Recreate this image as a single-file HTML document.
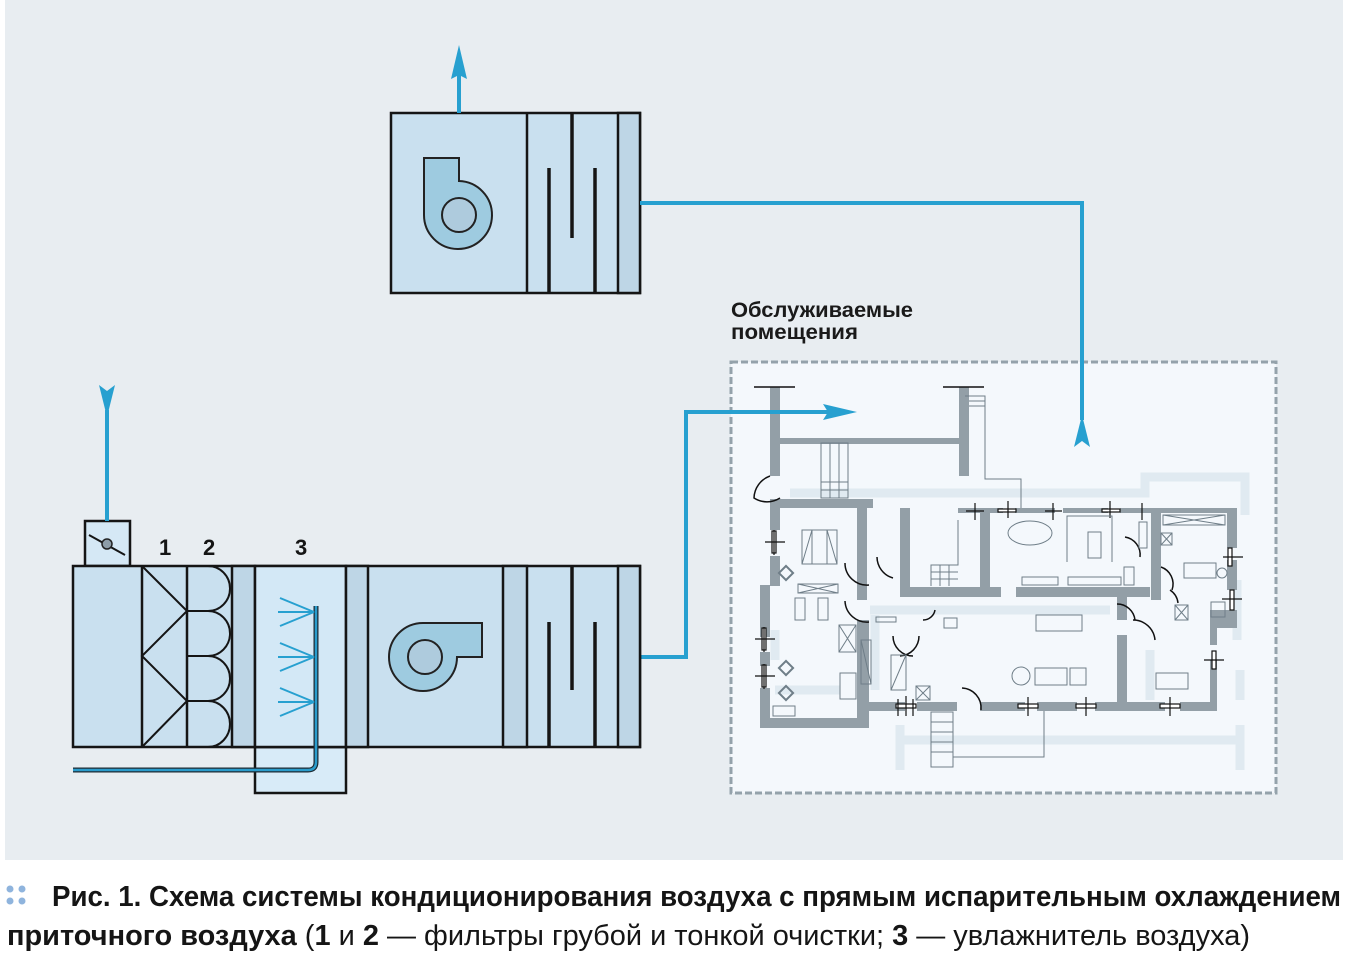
<!DOCTYPE html>
<html><head><meta charset="utf-8"><style>
html,body{margin:0;padding:0;background:#fff;}
svg{display:block;}
</style></head><body>
<svg width="1350" height="963" viewBox="0 0 1350 963" xmlns="http://www.w3.org/2000/svg">
<rect x="5" y="0" width="1338" height="860" fill="#e8edf1"/>

<!-- Top exhaust unit -->
<g stroke="#151515" stroke-width="2.5">
<rect x="391" y="113" width="249" height="180" fill="#c9e0ef"/>
<rect x="618" y="113" width="22" height="180" fill="#bed6e6"/>
<line x1="527" y1="113" x2="527" y2="293"/>
</g>
<g stroke="#151515" stroke-width="3.5">
<line x1="549" y1="168" x2="549" y2="293"/>
<line x1="572" y1="113" x2="572" y2="238"/>
<line x1="595" y1="168" x2="595" y2="293"/>
</g>
<path d="M424,158 H459 V181 A34,34 0 1 1 424,215 Z" fill="#9ecbe0" stroke="#222" stroke-width="2"/>
<circle cx="459" cy="215" r="17" fill="#aecbdd" stroke="#222" stroke-width="2"/>
<line x1="459" y1="113" x2="459" y2="75" stroke="#27a0d0" stroke-width="4"/>
<path d="M459,45 L451,79 L459,75 L467,79 Z" fill="#27a0d0"/>

<!-- Label -->
<text x="731" y="317" font-family="Liberation Sans, sans-serif" font-weight="bold" font-size="21" fill="#1a1a1a" textLength="182" lengthAdjust="spacingAndGlyphs">Обслуживаемые</text>
<text x="731" y="339" font-family="Liberation Sans, sans-serif" font-weight="bold" font-size="21" fill="#1a1a1a" textLength="127" lengthAdjust="spacingAndGlyphs">помещения</text>

<!-- Floor plan area -->
<rect x="731" y="362" width="545" height="431" fill="#f4f8fc" stroke="#94a2ab" stroke-width="3" stroke-dasharray="7,3"/>
<g fill="none" stroke="#e0eaf1" stroke-width="9">
<polyline points="790,493 1145,493 1145,477 1245,477 1245,515"/>
<line x1="900" y1="725" x2="900" y2="770"/>
<line x1="900" y1="740" x2="1240" y2="740"/>
<line x1="1240" y1="725" x2="1240" y2="770"/>
<line x1="1237" y1="580" x2="1237" y2="640"/>
<line x1="1240" y1="670" x2="1240" y2="700"/>
<line x1="875" y1="615" x2="875" y2="690"/>
<line x1="870" y1="610" x2="1110" y2="610"/>
<line x1="1150" y1="650" x2="1150" y2="700"/>
<line x1="775" y1="690" x2="840" y2="690"/>
<line x1="775" y1="630" x2="775" y2="660"/>
</g>
<g fill="#939fa7">
<rect x="770" y="387" width="10" height="89"/>
<rect x="959" y="387" width="10" height="89"/>
<rect x="780" y="438" width="179" height="6"/>
<rect x="770" y="499" width="103" height="9"/>
<rect x="770" y="508" width="10" height="22"/>
<rect x="770" y="556" width="10" height="30"/>
<rect x="760" y="585" width="10" height="52"/>
<rect x="760" y="652" width="10" height="14"/>
<rect x="760" y="688" width="10" height="40"/>
<rect x="760" y="718" width="109" height="10"/>
<rect x="857" y="508" width="10" height="92"/>
<rect x="857" y="620" width="12" height="108"/>
<rect x="869" y="702" width="36" height="9"/>
<rect x="917" y="702" width="40" height="9"/>
<rect x="980" y="702" width="45" height="9"/>
<rect x="1037" y="702" width="40" height="9"/>
<rect x="1095" y="702" width="70" height="9"/>
<rect x="1180" y="702" width="36" height="9"/>
<rect x="1210" y="660" width="7" height="51"/>
<rect x="1210" y="610" width="7" height="35"/>
<rect x="1210" y="610" width="27" height="18"/>
<rect x="1227" y="508" width="10" height="40"/>
<rect x="1227" y="560" width="10" height="30"/>
<rect x="958" y="508" width="45" height="5"/>
<rect x="1015" y="508" width="40" height="5"/>
<rect x="1063" y="508" width="45" height="5"/>
<rect x="1120" y="508" width="117" height="5"/>
<rect x="980" y="513" width="10" height="84"/>
<rect x="900" y="587" width="101" height="10"/>
<rect x="1016" y="587" width="134" height="10"/>
<rect x="1117" y="597" width="10" height="23"/>
<rect x="1117" y="635" width="10" height="76"/>
<rect x="1151" y="513" width="10" height="74"/>
<rect x="1151" y="567" width="10" height="33"/>
<rect x="900" y="508" width="10" height="79"/>
</g>
<g stroke="#111" stroke-width="1.5" fill="none">
<line x1="754" y1="387" x2="795" y2="387"/>
<line x1="943" y1="387" x2="984" y2="387"/>
<path d="M770,476 A24,24 0 0 0 754,498 A24,24 0 0 0 780,498"/>
<path d="M845,563 A22,22 0 0 0 869,585"/>
<path d="M877,557 A22,22 0 0 0 893,578"/>
<path d="M845,601 A22,22 0 0 0 869,622"/>
<path d="M893,636 A20,20 0 0 0 913,656"/>
<path d="M919,636 A20,20 0 0 1 900,656"/>
<path d="M935,610 A12,12 0 0 1 923,620"/>
<path d="M962,688 A20,20 0 0 1 981,710"/>
<path d="M1117,604 A18,18 0 0 1 1135,620"/>
<path d="M1133,620 A22,22 0 0 1 1155,640"/>
<path d="M1161,567 A18,18 0 0 1 1172,590"/>
<path d="M1125,537 A18,18 0 0 1 1140,557"/>
<path d="M1170,590 A18,18 0 0 1 1178,603"/>
</g>
<g stroke="#111" stroke-width="1.2" fill="#fff">
<rect x="772" y="531" width="4" height="22"/><line x1="765" y1="542" x2="785" y2="542"/><line x1="774" y1="530" x2="774" y2="555"/>
<rect x="762" y="628" width="4" height="22"/><line x1="755" y1="639" x2="775" y2="639"/><line x1="764" y1="627" x2="764" y2="652"/>
<rect x="762" y="665" width="4" height="22"/><line x1="755" y1="676" x2="775" y2="676"/><line x1="764" y1="664" x2="764" y2="689"/>
<rect x="896" y="704" width="20" height="4"/><line x1="906" y1="696" x2="906" y2="716"/><line x1="898" y1="699" x2="898" y2="716"/><line x1="913" y1="699" x2="913" y2="716"/>
<rect x="1018" y="704" width="20" height="4"/><line x1="1028" y1="697" x2="1028" y2="716"/>
<rect x="1076" y="704" width="20" height="4"/><line x1="1086" y1="697" x2="1086" y2="716"/>
<rect x="1160" y="704" width="20" height="4"/><line x1="1170" y1="697" x2="1170" y2="716"/>
<rect x="1228" y="548" width="4" height="18"/><line x1="1223" y1="557" x2="1243" y2="557"/>
<rect x="1230" y="590" width="4" height="20"/><line x1="1222" y1="599" x2="1242" y2="599"/>
<rect x="1212" y="651" width="4" height="18"/><line x1="1204" y1="660" x2="1224" y2="660"/>
<rect x="998" y="509" width="18" height="3"/><line x1="1008" y1="501" x2="1008" y2="518"/>
<rect x="1102" y="509" width="18" height="3"/><line x1="1110" y1="501" x2="1110" y2="518"/>
<line x1="1053" y1="503" x2="1053" y2="520"/><line x1="1045" y1="511" x2="1062" y2="511"/>
<line x1="975" y1="503" x2="975" y2="520"/><line x1="966" y1="511" x2="984" y2="511"/>
<line x1="1142" y1="503" x2="1142" y2="520"/>
</g>
<g stroke="#6f7e88" stroke-width="1" fill="none">
<rect x="821" y="443" width="27" height="55"/>
<line x1="830" y1="443" x2="830" y2="498"/><line x1="839" y1="443" x2="839" y2="498"/>
<line x1="821" y1="482" x2="848" y2="482"/><line x1="821" y1="490" x2="848" y2="490"/>
<polyline points="965,396 985,396 985,479 1021,479 1021,508"/>
<line x1="969" y1="401" x2="985" y2="401"/><line x1="969" y1="406" x2="985" y2="406"/>
<rect x="802" y="530" width="35" height="34"/><line x1="812" y1="530" x2="812" y2="564"/><line x1="827" y1="530" x2="827" y2="564"/>
<line x1="802" y1="564" x2="812" y2="530"/><line x1="837" y1="564" x2="827" y2="530"/>
<rect x="798" y="584" width="40" height="9"/><line x1="798" y1="584" x2="838" y2="593"/><line x1="798" y1="593" x2="838" y2="584"/>
<rect x="795" y="598" width="10" height="22"/><rect x="818" y="598" width="10" height="22"/>
<rect x="839" y="625" width="17" height="27"/><line x1="839" y1="625" x2="856" y2="652"/><line x1="839" y1="652" x2="856" y2="625"/>
<rect x="861" y="640" width="10" height="44"/><line x1="861" y1="640" x2="871" y2="684"/>
<rect x="840" y="673" width="16" height="26"/>
<rect x="773" y="706" width="22" height="10"/>
<rect x="891" y="655" width="15" height="35"/><line x1="891" y1="690" x2="906" y2="655"/>
<rect x="876" y="617" width="20" height="5"/>
<polyline points="958,520 958,565 931,565 931,586"/>
<line x1="931" y1="572" x2="958" y2="572"/><line x1="931" y1="579" x2="958" y2="579"/>
<line x1="940" y1="565" x2="940" y2="586"/><line x1="949" y1="565" x2="949" y2="586"/>
<ellipse cx="1030" cy="533" rx="22" ry="12"/>
<polyline points="1067,562 1067,516 1112,516 1112,562"/>
<rect x="1088" y="532" width="13" height="26"/>
<rect x="1022" y="577" width="36" height="8"/><rect x="1068" y="577" width="53" height="8"/><rect x="1124" y="567" width="10" height="18"/>
<rect x="1036" y="615" width="46" height="16"/>
<circle cx="1021" cy="676" r="9"/><rect x="1035" y="668" width="32" height="17"/><rect x="1070" y="668" width="16" height="17"/>
<rect x="1163" y="515" width="62" height="10"/><line x1="1163" y1="515" x2="1225" y2="525"/><line x1="1163" y1="525" x2="1225" y2="515"/>
<rect x="1184" y="563" width="32" height="15"/><circle cx="1222" cy="573" r="5"/>
<rect x="1156" y="673" width="32" height="16"/>
<rect x="1139" y="522" width="8" height="26"/><rect x="1161" y="533" width="11" height="12"/><line x1="1161" y1="533" x2="1172" y2="545"/><line x1="1161" y1="545" x2="1172" y2="533"/>
<rect x="1175" y="605" width="13" height="15"/><line x1="1175" y1="605" x2="1188" y2="620"/><line x1="1175" y1="620" x2="1188" y2="605"/>
<rect x="1211" y="602" width="14" height="15"/>
<rect x="916" y="686" width="14" height="14"/><line x1="916" y1="686" x2="930" y2="700"/><line x1="916" y1="700" x2="930" y2="686"/>
<rect x="931" y="712" width="22" height="55"/>
<line x1="931" y1="722" x2="953" y2="722"/><line x1="931" y1="732" x2="953" y2="732"/><line x1="931" y1="742" x2="953" y2="742"/><line x1="931" y1="752" x2="953" y2="752"/>
<polyline points="953,757 1044,757 1044,711"/>
<rect x="944" y="618" width="13" height="10"/>
</g>
<g fill="none" stroke="#6f7e88" stroke-width="2">
<rect x="781" y="568" width="10" height="10" transform="rotate(45 786 573)"/>
<rect x="781" y="663" width="10" height="10" transform="rotate(45 786 668)"/>
<rect x="781" y="688" width="10" height="10" transform="rotate(45 786 693)"/>
</g>
<!-- exhaust line from rooms -->
<polyline points="640,203 1082,203 1082,420" fill="none" stroke="#27a0d0" stroke-width="4"/>
<path d="M1082,415 L1074,447 L1082,441 L1090,447 Z" fill="#27a0d0"/>
<!-- supply arrow into rooms -->
<polyline points="640,657 686,657 686,412 830,412" fill="none" stroke="#27a0d0" stroke-width="4"/>
<path d="M857,412 L823,404 L828,412 L823,420 Z" fill="#27a0d0"/>

<!-- Bottom supply unit -->
<g stroke="#151515" stroke-width="2.5">
<rect x="85" y="521" width="45" height="45" fill="#d5e8f5"/>
<rect x="255" y="747" width="91" height="46" fill="#d8ebf8"/>
<rect x="73" y="566" width="567" height="181" fill="#c9e0ef"/>
<rect x="232" y="566" width="23" height="181" fill="#bed6e6"/>
<rect x="255" y="566" width="91" height="181" fill="#d3e8f6"/>
<rect x="346" y="566" width="22" height="181" fill="#bed6e6"/>
<rect x="503" y="566" width="24" height="181" fill="#bed6e6"/>
<rect x="618" y="566" width="22" height="181" fill="#bed6e6"/>
<line x1="142" y1="566" x2="142" y2="747"/>
<line x1="187" y1="566" x2="187" y2="747"/>
</g>
<g stroke="#151515" stroke-width="2" fill="none">
<polyline points="142,566 187,611 142,656 187,701 142,747"/>
<line x1="187" y1="611" x2="210" y2="611"/><line x1="187" y1="656" x2="210" y2="656"/><line x1="187" y1="701" x2="210" y2="701"/>
<path d="M208,566 A22,22.5 0 0 1 208,611 A22,22.5 0 0 1 208,656 A22,22.5 0 0 1 208,701 A22,23 0 0 1 208,747"/>
<line x1="89" y1="535" x2="125" y2="555"/>
</g>
<circle cx="107" cy="544" r="5" fill="#8d9da8" stroke="#222" stroke-width="1.5"/>
<g stroke="#151515" stroke-width="3.5">
<line x1="549" y1="622" x2="549" y2="747"/>
<line x1="572" y1="566" x2="572" y2="690"/>
<line x1="595" y1="622" x2="595" y2="747"/>
</g>
<path d="M423,623 H482 V657 H457 A34,34 0 1 1 423,623 Z" fill="#9ecbe0" stroke="#222" stroke-width="2"/>
<circle cx="425" cy="657" r="17" fill="#aecbdd" stroke="#222" stroke-width="2"/>
<!-- pipe -->
<path d="M73,770 H308 Q316,770 316,762 V606" fill="none" stroke="#1d2a33" stroke-width="5"/>
<path d="M73,770 H308 Q316,770 316,762 V606" fill="none" stroke="#2a9ccc" stroke-width="2.5"/>
<g stroke="#27a0d0" stroke-width="2" fill="none">
<path d="M280,598 L314,612 M278,612 L314,612 M280,626 L314,612"/>
<path d="M280,643 L314,657 M278,657 L314,657 M280,671 L314,657"/>
<path d="M280,688 L314,702 M278,702 L314,702 M280,716 L314,702"/>
</g>
<line x1="107" y1="521" x2="107" y2="410" stroke="#27a0d0" stroke-width="4"/>
<path d="M107,417 L99,385 L107,391 L115,385 Z" fill="#27a0d0"/>
<g font-family="Liberation Sans, sans-serif" font-weight="bold" font-size="22" fill="#151515">
<text x="159" y="555">1</text><text x="203" y="555">2</text><text x="295" y="555">3</text>
</g>

<!-- Caption -->
<g fill="#8fb4dd"><circle cx="10" cy="889" r="3.5"/><circle cx="22" cy="889" r="3.5"/><circle cx="10" cy="901" r="3.5"/><circle cx="22" cy="901" r="3.5"/></g>
<text x="52" y="906" font-family="Liberation Sans, sans-serif" font-size="29" fill="#151515" textLength="1289" lengthAdjust="spacingAndGlyphs"><tspan font-weight="bold">Рис. 1.</tspan> <tspan font-weight="bold">Схема системы кондиционирования воздуха с прямым испарительным охлаждением</tspan></text>
<text x="7" y="945" font-family="Liberation Sans, sans-serif" font-size="29" fill="#151515" textLength="1243" lengthAdjust="spacingAndGlyphs"><tspan font-weight="bold">приточного воздуха</tspan> (<tspan font-weight="bold">1</tspan> и <tspan font-weight="bold">2</tspan> — фильтры грубой и тонкой очистки; <tspan font-weight="bold">3</tspan> — увлажнитель воздуха)</text>
</svg>
</body></html>
